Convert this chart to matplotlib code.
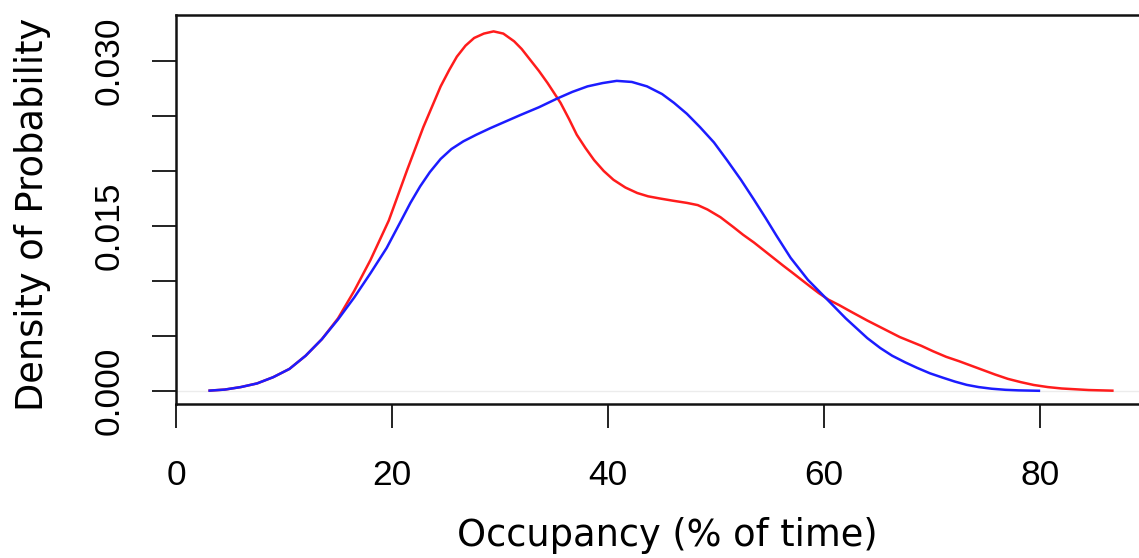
import matplotlib
matplotlib.use("Agg")
import matplotlib.pyplot as plt
from matplotlib.ticker import FixedLocator

# Occupancy (% of time) and estimated density, group 1 (red)
red_x = [3.0, 4.5, 6.0, 7.5, 9.0, 10.5, 12.0, 13.5, 15.0, 16.5, 18.0, 19.7,
         21.4, 22.9, 24.5, 25.3, 26.0, 26.8, 27.6, 28.5, 29.4, 30.3, 31.3, 32.0,
         32.8, 33.6, 34.4, 35.0, 35.6, 36.4, 37.1, 37.9, 38.7, 39.6, 40.5, 41.6,
         42.7, 43.7, 44.8, 46.0, 47.3, 48.3, 49.2, 50.4, 51.6, 52.5, 53.5, 54.4,
         55.3, 56.2, 57.0, 58.7, 59.5, 60.4, 61.4, 62.5, 64.0, 65.8, 67.0, 68.0,
         69.0, 70.1, 71.3, 72.5, 73.6, 74.7, 75.8, 77.0, 78.2, 79.4, 80.7, 82.0,
         84.5, 86.8]
red_y = [0.00002, 0.00012, 0.00035, 0.00068, 0.00125, 0.0020, 0.0032, 0.0047,
         0.0066, 0.0091, 0.0119, 0.0155, 0.0201, 0.0240, 0.0277, 0.0292, 0.0304,
         0.0314, 0.0321, 0.0325, 0.0327, 0.0325, 0.0318, 0.0311, 0.0301, 0.0291,
         0.0280, 0.0271, 0.0262, 0.0247, 0.0233, 0.0221, 0.0210, 0.0200, 0.0192,
         0.0185, 0.0180, 0.0177, 0.0175, 0.0173, 0.0171, 0.0169, 0.0165, 0.0158,
         0.0149, 0.0142, 0.0135, 0.0128, 0.0121, 0.0114, 0.0108, 0.0095, 0.0089,
         0.0083, 0.0078, 0.0072, 0.0064, 0.0055, 0.0049, 0.0045, 0.0041, 0.0036,
         0.0031, 0.0027, 0.0023, 0.0019, 0.0015, 0.0011, 0.0008, 0.00054,
         0.00035, 0.00022, 0.00008, 0.00002]

# Occupancy (% of time) and estimated density, group 2 (blue)
blue_x = [3.0, 4.5, 6.0, 7.5, 9.0, 10.5, 12.0, 13.5, 15.0, 16.5, 18.0, 19.5,
          20.9, 21.7, 22.6, 23.5, 24.5, 25.5, 26.6, 27.8, 29.1, 30.5, 31.9, 33.6,
          35.3, 36.7, 38.1, 39.5, 40.8, 42.2, 43.6, 45.0, 46.1, 47.3, 48.5, 49.8,
          51.0, 52.3, 53.5, 54.6, 55.6, 56.9, 58.5, 60.4, 62.0, 63.0, 64.0, 65.2,
          66.3, 67.5, 68.6, 69.8, 71.0, 72.1, 73.2, 74.3, 75.5, 76.8, 78.0, 80.0]
blue_y = [0.00002, 0.00012, 0.00035, 0.00068, 0.00125, 0.0020, 0.0032, 0.0047,
          0.0065, 0.0085, 0.0107, 0.0130, 0.0156, 0.0171, 0.0186, 0.0199, 0.0211,
          0.0220, 0.0227, 0.0233, 0.0239, 0.0245, 0.0251, 0.0258, 0.0266, 0.0272,
          0.0277, 0.0280, 0.0282, 0.0281, 0.0277, 0.0270, 0.0262, 0.0252, 0.0240,
          0.0226, 0.0210, 0.0192, 0.0174, 0.0157, 0.0141, 0.0121, 0.0101, 0.0082,
          0.0066, 0.0057, 0.0048, 0.0039, 0.0032, 0.0026, 0.0021, 0.0016, 0.0012,
          0.00085, 0.00055, 0.00035, 0.0002, 0.0001, 0.00005, 0.00001]

x_ticks = [0, 20, 40, 60, 80]
y_ticks = [0.000, 0.005, 0.010, 0.015, 0.020, 0.025, 0.030]
y_labels = ["0.000", "", "", "0.015", "", "", "0.030"]

W, H = 1139, 558
fig = plt.figure(figsize=(W / 100, H / 100), dpi=100)

left, right, top, bottom = 176, 1139, 15, 404
ax = fig.add_axes([left / W, 1 - bottom / H, (right - left) / W, (bottom - top) / H])

x0_px, px_per_unit = 175.3, 10.81
ax.set_xlim(0, (right - x0_px) / px_per_unit)
ax.set_ylim(-0.00119, 0.03419)

ax.axhline(0, color="#ececec", lw=1.0, zorder=1)
ax.plot(red_x, red_y, color="#ff1c1c", lw=1.8, zorder=3,
        solid_joinstyle="round", solid_capstyle="butt")
ax.plot(blue_x, blue_y, color="#1c1cff", lw=1.8, zorder=3,
        solid_joinstyle="round", solid_capstyle="butt")

for side in ("top", "left", "bottom"):
    ax.spines[side].set_linewidth(1.8)
    ax.spines[side].set_color("#111111")
ax.spines["right"].set_visible(False)

tick_font = dict(family=["Liberation Sans", "DejaVu Sans"], size=25.5)
ax.xaxis.set_major_locator(FixedLocator(x_ticks))
ax.set_xticklabels([str(v) for v in x_ticks], fontdict=tick_font)
ax.yaxis.set_major_locator(FixedLocator(y_ticks))
ax.set_yticklabels(y_labels, fontdict=tick_font, rotation=90, va="center")

ax.tick_params(axis="x", length=17, width=1.3, color="#111111", pad=22.5)
ax.tick_params(axis="y", length=17, width=1.3, color="#111111", pad=19.5)

label_font = dict(family=["DejaVu Sans"], size=26.5, color="black")
fig.text(667 / W, 1 - 546.5 / H, "Occupancy (% of time)",
         ha="center", va="baseline", **label_font)
fig.text(43 / W, 1 - 214 / H, "Density of Probability", rotation=90,
         rotation_mode="anchor", ha="center", va="baseline", **label_font)

fig.savefig("out.png", dpi=100)
